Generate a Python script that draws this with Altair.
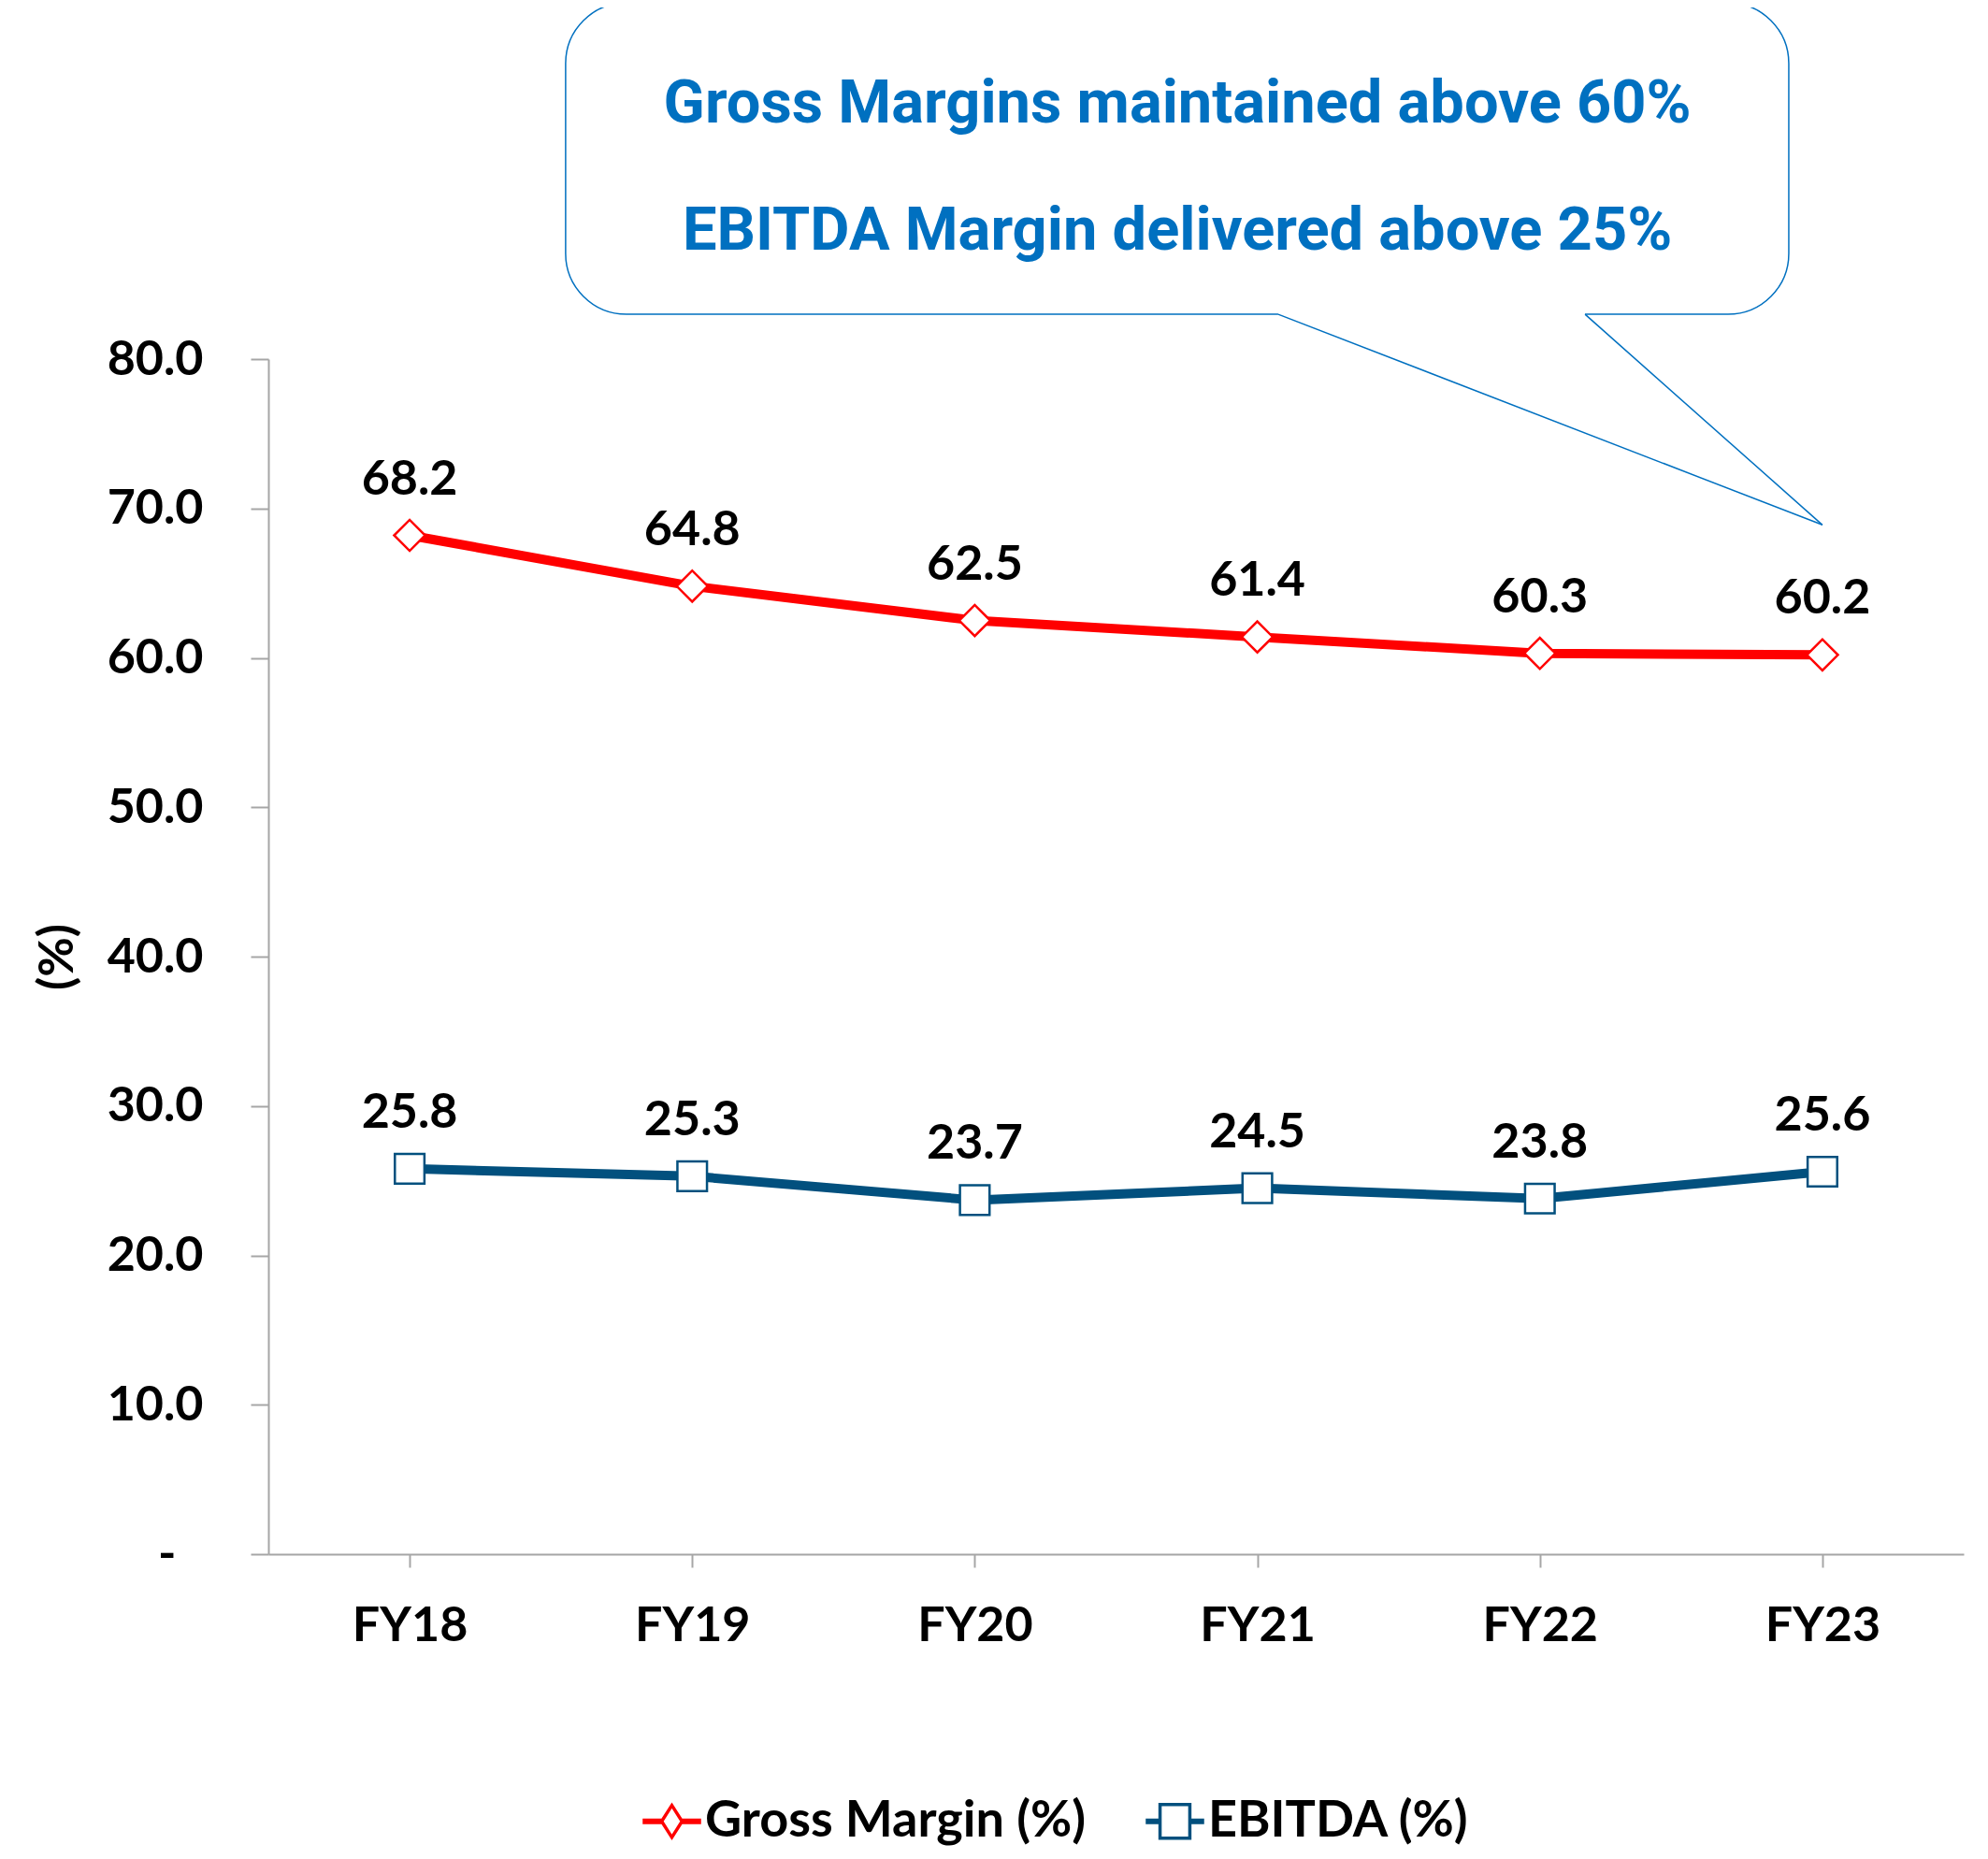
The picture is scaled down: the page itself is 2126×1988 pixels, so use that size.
import altair as alt
import pandas as pd

# ---------------- data ----------------
years = ["FY18", "FY19", "FY20", "FY21", "FY22", "FY23"]
gross_margin = [68.2, 64.8, 62.5, 61.4, 60.3, 60.2]
ebitda = [25.8, 25.3, 23.7, 24.5, 23.8, 25.6]
series_names = ["Gross Margin (%)", "EBITDA (%)"]
y_ticks = [0, 10, 20, 30, 40, 50, 60, 70, 80]
callout_lines = ["Gross Margins maintained above 60%", "EBITDA Margin delivered above 25%"]

# ---------------- styles ----------------
RED = "#FF0000"
BLUE = "#02507E"
CALLOUT = "#0070C0"
AXIS_GREY = "#A6A6A6"
FONT = "Lato"
CALLOUT_FONT = "Roboto"

rows = []
for name, vals in zip(series_names, [gross_margin, ebitda]):
    for i, (yr, v) in enumerate(zip(years, vals)):
        rows.append({"series": name, "year": yr, "idx": i, "value": v})
df = pd.DataFrame(rows)

# callout anchors in data units (x: category index, y: percent)
box_df = pd.DataFrame([{"x0": 0.552, "x1": 4.881, "y0": 83.0, "y1": 103.85}])
gap_df = pd.DataFrame([{"x0": 3.074, "x1": 4.160, "y0": 83.0}])
ptr_df = pd.DataFrame([
    {"x0": 3.074, "y0": 83.0, "x1": 5.0, "y1": 68.9},
    {"x0": 4.160, "y0": 83.0, "x1": 5.0, "y1": 68.9},
])
txt_df = pd.DataFrame([
    {"x": 2.717, "y": 97.1, "t": callout_lines[0]},
    {"x": 2.717, "y": 88.6, "t": callout_lines[1]},
])

y_scale = alt.Scale(domain=[0, 80], nice=False, zero=False)
x_scale = alt.Scale(domain=[-0.5, len(years) - 0.5], nice=False, zero=False)
year_expr = "[" + ",".join("'%s'" % y for y in years) + "][datum.value]"

x_axis = alt.Axis(
    title=None, values=list(range(len(years))), labelExpr=year_expr, labelAngle=0, grid=False,
    labelFont=FONT, labelFontSize=52, labelFontWeight="bold", labelColor="black",
    domainColor=AXIS_GREY, domainWidth=2, tickColor=AXIS_GREY, tickWidth=2, tickSize=14,
    labelPadding=37, labelFlush=False, labelOverlap=False,
)
y_axis = alt.Axis(
    values=y_ticks, grid=False, title="(%)", titleFont=FONT, titleFontSize=52,
    titleFontWeight="bold", titleColor="black", titleX=-226, titleY=639, titleAngle=270,
    titleAlign="center", titleBaseline="middle",
    labelExpr="datum.value == 0 ? '-' : format(datum.value, '.1f')",
    labelFont=FONT, labelFontSize=52, labelFontWeight="bold", labelColor="black",
    labelPadding={"condition": {"test": "datum.value == 0", "value": 80}, "value": 51},
    domainColor=AXIS_GREY, domainWidth=2, tickColor=AXIS_GREY, tickWidth=2, tickSize=19,
)

base = alt.Chart(df)
X = alt.X("idx:Q", scale=x_scale, axis=x_axis)
Y = alt.Y("value:Q", scale=y_scale, axis=y_axis)

gm = base.transform_filter(alt.datum.series == series_names[0])
eb = base.transform_filter(alt.datum.series == series_names[1])

gm_line = gm.mark_line(strokeWidth=10, strokeJoin="round", strokeCap="round", color=RED).encode(x=X, y=Y)
eb_line = eb.mark_line(strokeWidth=10, strokeJoin="round", strokeCap="round", color=BLUE).encode(x=X, y=Y)
gm_pts = gm.mark_point(
    shape="diamond", size=1100, filled=True, fill="white", stroke=RED, strokeWidth=2.5, opacity=1
).encode(x=X, y=Y)
eb_pts = eb.mark_point(
    shape="square", size=1000, filled=True, fill="white", stroke=BLUE, strokeWidth=2.5, opacity=1
).encode(x=X, y=Y)
labels = base.mark_text(dy=-60, font=FONT, fontSize=52, fontWeight="bold", color="black").encode(
    x=X, y=Y, text=alt.Text("value:Q", format=".1f")
)

gm_sym = ("M-1,-0.04L-0.37,-0.04L-0.37,0.04L-1,0.04Z M0.37,-0.04L1,-0.04L1,0.04L0.37,0.04Z "
          "M-0.37,0L0,-0.58L0.37,0L0,0.58Z")
eb_sym = ("M-1,-0.04L-0.54,-0.04L-0.54,0.04L-1,0.04Z M0.54,-0.04L1,-0.04L1,0.04L0.54,0.04Z "
          "M-0.54,-0.61L0.54,-0.61L0.54,0.61L-0.54,0.61Z")
leg = dict(
    title=None, orient="none", legendX=400, legendY=1532, direction="horizontal",
    labelFont=FONT, labelFontSize=54, labelFontWeight="bold", labelColor="black",
    symbolSize=3481, symbolStrokeWidth=3.5, symbolFillColor="white", symbolOpacity=1,
    columnPadding=58, labelOffset=4, labelLimit=1000,
)
legend_layer = base.mark_point(filled=False, strokeWidth=3, opacity=0).encode(
    x=X, y=Y,
    stroke=alt.Stroke("series:N", scale=alt.Scale(domain=series_names, range=[RED, BLUE]),
                      legend=alt.Legend(**leg)),
    shape=alt.Shape("series:N", scale=alt.Scale(domain=series_names, range=[gm_sym, eb_sym]),
                    legend=alt.Legend(**leg)),
)

AX = lambda f: alt.X(f, scale=x_scale, axis=x_axis)
AY = lambda f: alt.Y(f, scale=y_scale, axis=y_axis)

box = alt.Chart(box_df).mark_rect(fill="white", stroke=CALLOUT, strokeWidth=1.5, cornerRadius=65).encode(
    x=AX("x0:Q"), x2="x1:Q", y=AY("y0:Q"), y2="y1:Q",
)
gap = alt.Chart(gap_df).mark_rule(color="white", strokeWidth=5).encode(
    x=AX("x0:Q"), x2="x1:Q", y=AY("y0:Q"),
)
ptr = alt.Chart(ptr_df).mark_rule(color=CALLOUT, strokeWidth=1.5).encode(
    x=AX("x0:Q"), x2="x1:Q", y=AY("y0:Q"), y2="y1:Q",
)
txt = alt.Chart(txt_df).mark_text(
    font=CALLOUT_FONT, fontSize=65, fontWeight="bold", color=CALLOUT, align="center", baseline="middle"
).encode(
    x=AX("x:Q"), y=AY("y:Q"), text="t:N",
)

chart = alt.layer(gm_line, eb_line, gm_pts, eb_pts, labels, legend_layer, box, gap, ptr, txt).properties(
    width=1813, height=1278,
    padding={"left": 279, "top": 376, "right": 18, "bottom": 318},
    autosize=alt.AutoSizeParams(type="none"),
    background="white",
).configure_view(stroke=None)

chart.save("out.html", embed_options={"renderer": "svg", "actions": False})
